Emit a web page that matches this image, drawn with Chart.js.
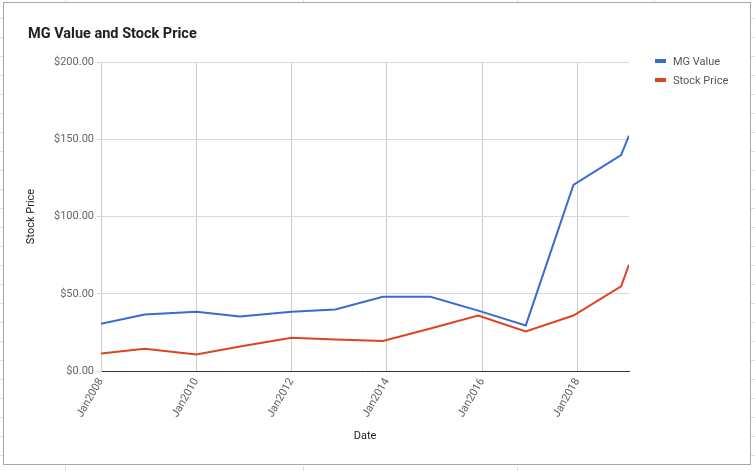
<!DOCTYPE html>
<html>
<head>
<meta charset="utf-8">
<script src="https://cdn.jsdelivr.net/npm/chart.js@4.4.1/dist/chart.umd.min.js"></script>
<style>
  html, body { margin: 0; padding: 0; }
  body {
    width: 755px; height: 471px; position: relative; overflow: hidden;
    background-color: #fff;
    background-image: repeating-linear-gradient(to bottom, transparent 0, transparent 18px, #e2e2e2 18px, #e2e2e2 19px);
    font-family: Roboto, Arial, sans-serif;
  }
  .col { position: absolute; width: 1px; background: #e2e2e2; }
  #card {
    position: absolute; left: 3px; top: 2px; width: 746px; height: 461px;
    border: 1px solid #a8a8a8; background: #fff;
  }
  #card canvas { position: absolute; left: 0; top: 0; }
  #title {
    position: absolute; left: 24px; top: 22px;
    font-size: 14.5px; font-weight: bold; color: #212121; white-space: nowrap;
  }
  .leg { position: absolute; left: 651px; font-size: 11px; color: #555; white-space: nowrap; line-height: 14px; }
  .leg i { display: inline-block; width: 11px; height: 4px; vertical-align: middle; margin-right: 7px; position: relative; top: -1px; }
</style>
</head>
<body>
<div class="col" style="left:65px;top:0;height:2px"></div>
<div class="col" style="left:303px;top:0;height:2px"></div>
<div class="col" style="left:517px;top:0;height:2px"></div>
<div class="col" style="left:654px;top:0;height:2px"></div>
<div class="col" style="left:65px;top:466px;height:5px"></div>
<div class="col" style="left:303px;top:466px;height:5px"></div>
<div class="col" style="left:517px;top:466px;height:5px"></div>
<div id="card">
  <canvas id="chart1" width="746" height="461"></canvas>
  <div id="title">MG Value and Stock Price</div>
  <div class="leg" style="top:52px"><i style="background:#3a6bd0"></i>MG Value</div>
  <div class="leg" style="top:71px"><i style="background:#de4420"></i>Stock Price</div>
</div>
<script>
const dates = ['2008-01', '2008-12', '2010-01', '2010-12', '2012-01', '2012-12', '2013-12', '2014-12', '2015-12', '2016-12', '2017-12', '2018-12', '2019-02']
const mgValue = [30.5, 36.6, 38.3, 35.3, 38.3, 39.8, 48.0, 48.0, 39.1, 29.5, 120.4, 139.8, 152.3]
const stockPrice = [11.4, 14.4, 10.7, 15.9, 21.5, 20.4, 19.4, 27.5, 35.9, 25.6, 35.9, 54.8, 68.8]
const yTicks = [0, 50, 100, 150, 200]

// 'YYYY-MM' -> decimal year for the linear x axis
const toYear = d => {
  const [y, m] = d.split('-').map(Number)
  return y + (m - 1) / 12
}

const years = dates.map(toYear)

const printChart = () => {

  const data = {
    datasets: [{
      label: 'MG Value',
      data: years.map((x, i) => ({ x, y: mgValue[i] })),
      borderColor: '#3a6bd0',
      backgroundColor: '#3a6bd0',
      borderWidth: 2,
      pointRadius: 0,
      tension: 0
    }, {
      label: 'Stock Price',
      data: years.map((x, i) => ({ x, y: stockPrice[i] })),
      borderColor: '#de4420',
      backgroundColor: '#de4420',
      borderWidth: 2,
      pointRadius: 0,
      tension: 0
    }]
  }

  const options = {
    responsive: false,
    animation: false,
    layout: {
      padding: { left: 10, right: 121, top: 59, bottom: 0 }
    },
    plugins: {
      legend: { display: false },
      tooltip: { enabled: false }
    },
    scales: {
      x: {
        type: 'linear',
        min: years[0],
        max: years[years.length - 1],
        afterFit: scale => { scale.height = 93 },
        grid: { color: '#cccccc', drawTicks: false },
        border: { color: '#333333', width: 1 },
        ticks: {
          stepSize: 2,
          includeBounds: false,
          minRotation: 60,
          maxRotation: 60,
          padding: 5,
          color: '#616161',
          font: { family: 'Roboto', size: 11 },
          callback: v => 'Jan' + v
        },
        title: {
          display: true,
          text: 'Date',
          color: '#222222',
          font: { family: 'Roboto', size: 11 },
          padding: { top: 0, bottom: 21 }
        }
      },
      y: {
        min: 0,
        max: 200,
        afterFit: scale => { scale.width = 87 },
        afterBuildTicks: scale => { scale.ticks = yTicks.map(value => ({ value })) },
        grid: { color: '#d9d9d9', drawTicks: true, tickLength: 4 },
        border: { color: '#cccccc' },
        ticks: {
          padding: 3,
          color: '#666666',
          font: { family: 'Roboto', size: 11 },
          callback: v => '$' + v.toFixed(2)
        },
        title: {
          display: true,
          text: 'Stock Price',
          color: '#222222',
          font: { family: 'Roboto', size: 11 },
          padding: { top: 11, bottom: 0 }
        }
      }
    }
  }

  new Chart('chart1', {
    type: 'line',
    data,
    options
  })

}

printChart()
</script>
</body>
</html>
